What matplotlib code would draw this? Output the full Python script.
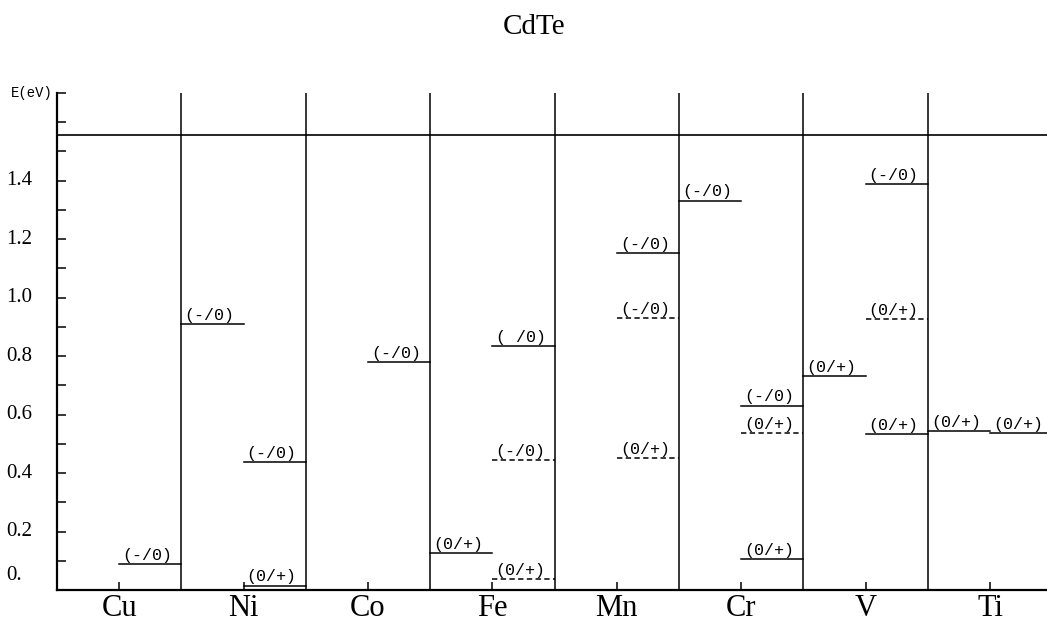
import matplotlib
matplotlib.use("Agg")
import matplotlib.pyplot as plt
import matplotlib.transforms as mtransforms

# ---- data ----
title = "CdTe"
elements = ["Cu", "Ni", "Co", "Fe", "Mn", "Cr", "V", "Ti"]
band_gap = 1.555
ytick_values = [0.0, 0.2, 0.4, 0.6, 0.8, 1.0, 1.2, 1.4]
ytick_labels = ["0.", "0.2", "0.4", "0.6", "0.8", "1.0", "1.2", "1.4"]
minor_ticks = [0.1, 0.3, 0.5, 0.7, 0.9, 1.1, 1.3, 1.5, 1.6, 1.7]

# level data: element index, half of column (0 = left, 1 = right), energy (eV), label, dashed
level_element = [0, 1, 1, 1, 2, 3, 3, 3, 3, 4, 4, 4, 5, 5, 5, 5, 6, 6, 6, 6, 7, 7]
level_side = [1, 0, 1, 1, 1, 0, 1, 1, 1, 1, 1, 1, 0, 1, 1, 1, 0, 1, 1, 1, 0, 1]
level_energy = [0.088, 0.910, 0.438, 0.015, 0.780, 0.125, 0.834, 0.443, 0.036,
                1.152, 0.930, 0.450, 1.331, 0.631, 0.537, 0.106, 0.731, 1.388,
                0.927, 0.533, 0.544, 0.537]
level_label = ["(-/0)", "(-/0)", "(-/0)", "(0/+)", "(-/0)", "(0/+)", "( /0)", "(-/0)",
               "(0/+)", "(-/0)", "(-/0)", "(0/+)", "(-/0)", "(-/0)", "(0/+)", "(0/+)",
               "(0/+)", "(-/0)", "(0/+)", "(0/+)", "(0/+)", "(0/+)"]
level_dashed = [False, False, False, False, False, False, False, True, True,
                False, True, True, False, False, True, False, False, False,
                True, False, False, False]

# ---- figure ----
W, H = 1047, 623
fig = plt.figure(figsize=(W / 100, H / 100), dpi=100)
ax_left, ax_bottom, ax_top = 57, 590, 93
ax = fig.add_axes([ax_left / W, 1 - ax_bottom / H, 1 - ax_left / W, (ax_bottom - ax_top) / H])
col_px = 124.4
ax.set_xlim(0, (W - ax_left) / col_px)
ax.set_ylim(0, 1.7)

for s in ["top", "right"]:
    ax.spines[s].set_visible(False)
for s in ["left", "bottom"]:
    ax.spines[s].set_linewidth(1.6)

# x ticks: element names at column centres
ax.set_xticks([i + 0.5 for i in range(len(elements))])
ax.set_xticklabels(elements, fontfamily="Liberation Serif", fontsize=22)
ax.tick_params(axis="x", direction="in", length=6, width=1.1, pad=3)

# y ticks every 0.1, labels drawn manually
ax.set_yticks(sorted(ytick_values[1:] + minor_ticks))
ax.set_yticklabels([])
ax.tick_params(axis="y", direction="in", length=6.5, width=1.1)

trans_lab = mtransforms.blended_transform_factory(fig.transFigure, ax.transData)
for v, lab in zip(ytick_values, ytick_labels):
    t = trans_lab
    if v == 0:
        t = trans_lab + mtransforms.ScaledTranslation(0, 15 / 100, fig.dpi_scale_trans)
    ax.text(6 / W, v, lab, transform=t, ha="left", va="center",
            fontfamily="Liberation Serif", fontsize=15, clip_on=False)

fig.text(53 / W, 1 - 93 / H, "E(eV)", ha="right", va="center",
         fontfamily="Liberation Mono", fontsize=10)

# column boundaries
for i in range(1, len(elements)):
    ax.plot([i, i], [0, 1.7], color="black", lw=1.1, solid_capstyle="butt")

# band gap
ax.axhline(band_gap, color="black", lw=1.2)

# levels
for el, side, e, lab, dsh in zip(level_element, level_side, level_energy,
                                 level_label, level_dashed):
    x0 = el + 0.5 * side
    x1 = x0 + 0.5
    if dsh:
        ax.plot([x0, x1], [e, e], color="black", lw=1.1, dashes=(3.5, 2.2))
    else:
        ax.plot([x0, x1], [e, e], color="black", lw=1.1)
    ax.annotate(lab, (x0 + 0.025, e), xytext=(0, 1), textcoords="offset points",
                ha="left", va="bottom", fontfamily="Liberation Mono", fontsize=12)

fig.text(534 / W, 1 - 27 / H, title, ha="center", va="center",
         fontfamily="Liberation Serif", fontsize=21)

fig.savefig("out.png", dpi=100, facecolor="white")
